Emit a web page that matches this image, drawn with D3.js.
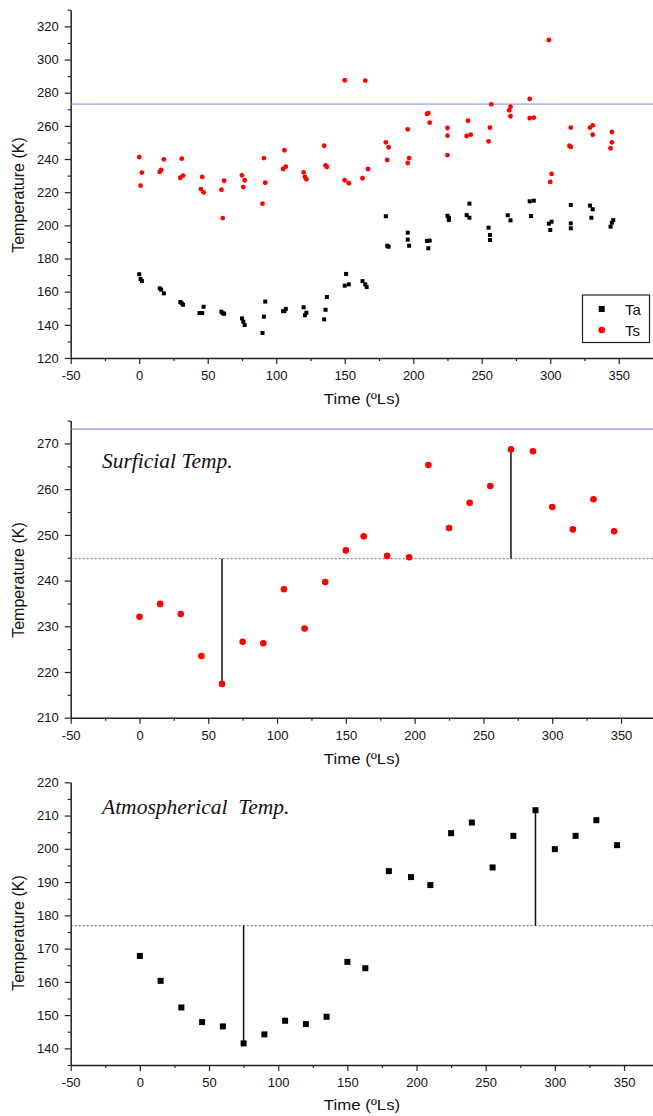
<!DOCTYPE html>
<html>
<head>
<meta charset="utf-8">
<script src="https://cdn.jsdelivr.net/npm/d3@7"></script>
<style>
  body { margin: 0; background: #fff; }
  svg text { font-family: "Liberation Sans", Arial, sans-serif; fill: #111; }
  .domain { stroke: #222; stroke-width: 1.5px; }
  .tick line { stroke: #222; stroke-width: 1.2px; }
  .note { font-family: "Liberation Serif", "Times New Roman", serif; font-style: italic; white-space: pre; }
</style>
</head>
<body>
<svg id="chart" width="653" height="1116"></svg>
<script>
// top panel: all individual measurements (Ls, K)
const taLs   = [0,1,2,15,16,18,30,31,32,44,46,47,60,61,62,75,76,77,90,91,92,105,106,107,120,121,122,135,136,137,151,150,153,163,165,166,180,181,182,196,196,197,210,212,211,225,226,226,241,239,241,255,256,256,269,271,285,288,286,299,301,300,315,315,315,329,331,330,346,345,344];
const taTemp = [170.5,167.6,166.4,162,161.2,159,153.8,153,152.1,147.1,147.1,150.9,147.9,147,146.7,143.9,141.9,139.9,135.1,144.9,154,148.2,148.3,149.6,150.6,145.8,147.3,143.3,149.1,156.8,170.7,163.6,164.4,166.4,164.4,162.8,205.5,187.7,187.1,195.6,191.4,187.7,190.6,190.8,186.2,205.8,204.6,203.2,213.1,206.2,204.6,198.6,194.2,191.2,206.1,203,214.5,214.9,205.6,201,202.2,197.2,212.3,201.2,198.2,211.9,209.7,204.6,203.2,201.6,199.2];
const tsLs   = [0,2,1,15,16,18,31,30,32,46,45,47,60,62,61,75,77,76,91,92,90,106,105,107,120,121,122,135,136,137,150,165,150,153,163,167,180,182,181,196,196,197,210,211,212,225,225,225,240,239,242,257,256,255,271,270,271,285,285,288,299,301,300,315,314,315,329,331,331,345,345,344];
const tsTemp = [241.2,231.8,223.9,232.2,233.4,239.8,240.2,228.7,230,229.2,221.9,219.9,221.5,226.9,204.4,230.2,227.2,223.1,240.6,225.7,213.1,245.3,234,235.4,232,229.2,227.8,248,236.2,235.2,287.5,287.3,227.2,225.4,228.4,234,250.1,247.1,239.4,257.9,237.6,240.6,267.2,267.6,261.9,258.7,254.1,242.4,263.1,253.9,254.7,273,258.9,250.7,271.6,269.4,265.8,276.2,264.6,265,311.8,231,226.2,258.9,248,247.3,258.9,260.3,254.7,256.3,250.1,246.5];

// lower panels: one value per Ls bin
const binLs    = [0,15,30,45,60,75,90,105,120,135,150,163,180,196,210,225,240,255,270,286,300,315,330,345];
const surfTemp = [232.1,234.9,232.7,223.5,217.4,226.6,226.3,238.1,229.5,239.7,246.6,249.7,245.4,245.1,265.3,251.5,257.0,260.7,268.7,268.3,256.1,251.2,257.8,250.8];
const atmTemp  = [167.8,160.3,152.3,147.9,146.6,141.5,144.2,148.3,147.3,149.5,166.0,164.1,193.3,191.5,189.1,204.7,207.9,194.4,203.9,211.6,199.9,203.9,208.6,201.1];

const xTicks = [-50,0,50,100,150,200,250,300,350];
const xMinor = [-25,25,75,125,175,225,275,325];
const freezing = 273.15;

const svg = d3.select("#chart");

function panel(p) {
  const x = d3.scaleLinear().domain([-50, 375]).range([70.7, p.xEnd]);
  const y = d3.scaleLinear().domain(p.yDomain).range([p.bottom, p.top]);
  const g = svg.append("g");

  // minor ticks
  g.append("g").attr("transform", `translate(0,${p.bottom})`)
    .call(d3.axisBottom(x).tickValues(xMinor).tickSize(3).tickFormat(""))
    .call(a => a.select(".domain").remove());
  g.append("g").attr("transform", "translate(70.7,0)")
    .call(d3.axisLeft(y).tickValues(p.yMinor).tickSize(3).tickFormat(""))
    .call(a => a.select(".domain").remove());

  g.append("g").attr("transform", `translate(0,${p.bottom})`)
    .call(d3.axisBottom(x).tickValues(xTicks).tickSize(6).tickPadding(7).tickSizeOuter(0).tickFormat(d => String(d)))
    .attr("font-size", 13);
  g.append("g").attr("transform", "translate(70.7,0)")
    .call(d3.axisLeft(y).tickValues(p.yTicks).tickSize(6).tickPadding(6).tickSizeOuter(0).tickFormat(d => String(d)))
    .attr("font-size", 13);

  g.append("text")
    .attr("transform", `translate(362,${p.xLabelY}) scale(1.12,1)`)
    .attr("text-anchor", "middle").attr("font-size", 15)
    .text("Time (ºLs)");
  g.append("text")
    .attr("transform", `translate(23.5,${p.yLabelY}) rotate(-90)`)
    .attr("text-anchor", "middle").attr("font-size", 16)
    .text("Temperature (K)");

  return { g, x, y };
}

function hline(o, v, color, dash) {
  o.g.append("line")
    .attr("x1", o.x(-50)).attr("x2", o.x(375))
    .attr("y1", o.y(v)).attr("y2", o.y(v))
    .attr("stroke", color).attr("stroke-width", 1)
    .attr("stroke-dasharray", dash);
}

// ---- top: all points ----
const topP = panel({ top: 9.8, bottom: 358, xEnd: 653, yDomain: [120, 330],
  yTicks: d3.range(120, 321, 20), yMinor: d3.range(130, 331, 20), xLabelY: 404, yLabelY: 195 });

hline(topP, freezing, "#8080f4", null);

topP.g.selectAll(".ta").data(d3.zip(taLs, taTemp)).join("rect")
  .attr("x", d => topP.x(d[0]) - 2).attr("y", d => topP.y(d[1]) - 2)
  .attr("width", 4).attr("height", 4).attr("fill", "#000");
topP.g.selectAll(".ts").data(d3.zip(tsLs, tsTemp)).join("circle")
  .attr("cx", d => topP.x(d[0])).attr("cy", d => topP.y(d[1]))
  .attr("r", 2.4).attr("fill", "#f00");

const leg = topP.g.append("g");
leg.append("rect").attr("x", 582.5).attr("y", 295).attr("width", 67).attr("height", 47.5)
  .attr("fill", "#fff").attr("stroke", "#222").attr("stroke-width", 1.2);
leg.append("rect").attr("x", 598.7).attr("y", 306).attr("width", 6).attr("height", 6).attr("fill", "#000");
leg.append("circle").attr("cx", 601.7).attr("cy", 330).attr("r", 3.3).attr("fill", "#f00");
leg.append("text").attr("x", 625).attr("y", 314.5).attr("font-size", 15).text("Ta");
leg.append("text").attr("x", 625).attr("y", 335.5).attr("font-size", 15).text("Ts");

// ---- middle / bottom: binned means ----
function meanPanel(o, temps, label, labelY, marker) {
  const m = d3.mean(temps);
  hline(o, m, "#666", "2,2");
  const lo = d3.minIndex(temps), hi = d3.maxIndex(temps);
  [lo, hi].forEach(i => {
    o.g.append("line")
      .attr("x1", o.x(binLs[i])).attr("x2", o.x(binLs[i]))
      .attr("y1", o.y(m)).attr("y2", o.y(temps[i]))
      .attr("stroke", "#111").attr("stroke-width", 1.5);
  });
  const pts = d3.zip(binLs, temps);
  if (marker === "circle") {
    o.g.selectAll(".pt").data(pts).join("circle")
      .attr("cx", d => o.x(d[0])).attr("cy", d => o.y(d[1]))
      .attr("r", 3.3).attr("fill", "#f00");
  } else {
    o.g.selectAll(".pt").data(pts).join("rect")
      .attr("x", d => o.x(d[0]) - 3).attr("y", d => o.y(d[1]) - 3)
      .attr("width", 6).attr("height", 6).attr("fill", "#000");
  }
  o.g.append("text").attr("class", "note")
    .attr("x", 102).attr("y", labelY).attr("font-size", 21.5).text(label);
}

const mid = panel({ top: 420.6, bottom: 717.7, xEnd: 655.4, yDomain: [210, 275],
  yTicks: d3.range(210, 271, 10), yMinor: d3.range(215, 276, 10), xLabelY: 764, yLabelY: 580 });
hline(mid, freezing, "#6c6cec", null);
meanPanel(mid, surfTemp, "Surficial Temp.", 468, "circle");

const bot = panel({ top: 782.3, bottom: 1065, xEnd: 658.6, yDomain: [135, 220],
  yTicks: d3.range(140, 221, 10), yMinor: d3.range(135, 216, 10), xLabelY: 1110, yLabelY: 933 });
meanPanel(bot, atmTemp, "Atmospherical  Temp.", 814, "square");
</script>
</body>
</html>
